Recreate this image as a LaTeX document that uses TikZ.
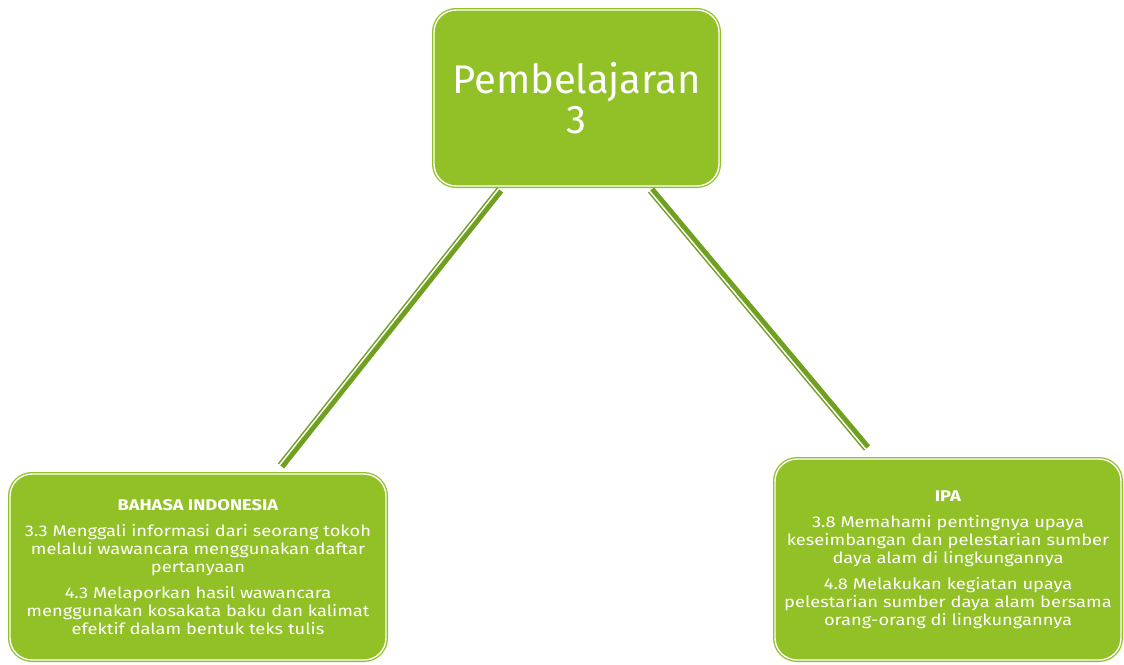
\documentclass[tikz,border=0pt]{standalone}
\usepackage{fontspec}
\setmainfont{Fira Sans}
\newfontfamily\widefont{Fira Sans}[FakeStretch=1.18]
\usetikzlibrary{calc}
\definecolor{boxgreen}{RGB}{146,193,39}
\definecolor{linegreen}{RGB}{112,160,31}
\begin{document}
\begin{tikzpicture}[x=1pt,y=1pt,
    box/.style={rectangle, rounded corners=22pt, draw=boxgreen, fill=boxgreen,
      double=white, double distance=1.4pt, line width=1.3pt,
      text=white, align=center, inner sep=0pt},
    small/.style={font=\widefont\fontsize{15.5}{18}\selectfont},
    band/.style={linegreen, line width=8pt},
    gap/.style={white, line width=1.5pt}]
  \useasboundingbox (0,0) rectangle (1124,-664);
  \node[box, minimum width=285, minimum height=176,
    font=\fontsize{40}{40}\selectfont] (top) at (576.5,-98) {Pembelajaran\\3};
  \node[box, small, minimum width=376, minimum height=186] (bind) at (198,-567)
    {\textbf{BAHASA INDONESIA}\\[8pt]
     3.3 Menggali informasi dari seorang tokoh\\
     melalui wawancara menggunakan daftar\\
     pertanyaan\\[8pt]
     4.3 Melaporkan hasil wawancara\\
     menggunakan kosakata baku dan kalimat\\
     efektif dalam bentuk teks tulis};
  \node[box, small, minimum width=346, minimum height=201] (ipa) at (948,-559.5)
    {\textbf{IPA}\\[8pt]
     3.8 Memahami pentingnya upaya\\
     keseimbangan dan pelestarian sumber\\
     daya alam di lingkungannya\\[8pt]
     4.8 Melakukan kegiatan upaya\\
     pelestarian sumber daya alam bersama\\
     orang-orang di lingkungannya};
  % connectors
  \coordinate (a1) at (500,-190);
  \coordinate (a2) at (281,-466);
  \coordinate (b1) at (651,-190);
  \coordinate (b2) at (867,-448);
  \draw[band] (a1) -- (a2);
  \draw[gap] ($(a1)!1.75pt!-90:(a2)$) -- ($(a2)!1.75pt!90:(a1)$);
  \draw[band] (b1) -- (b2);
  \draw[gap] ($(b1)!1.75pt!-90:(b2)$) -- ($(b2)!1.75pt!90:(b1)$);
\end{tikzpicture}
\end{document}
